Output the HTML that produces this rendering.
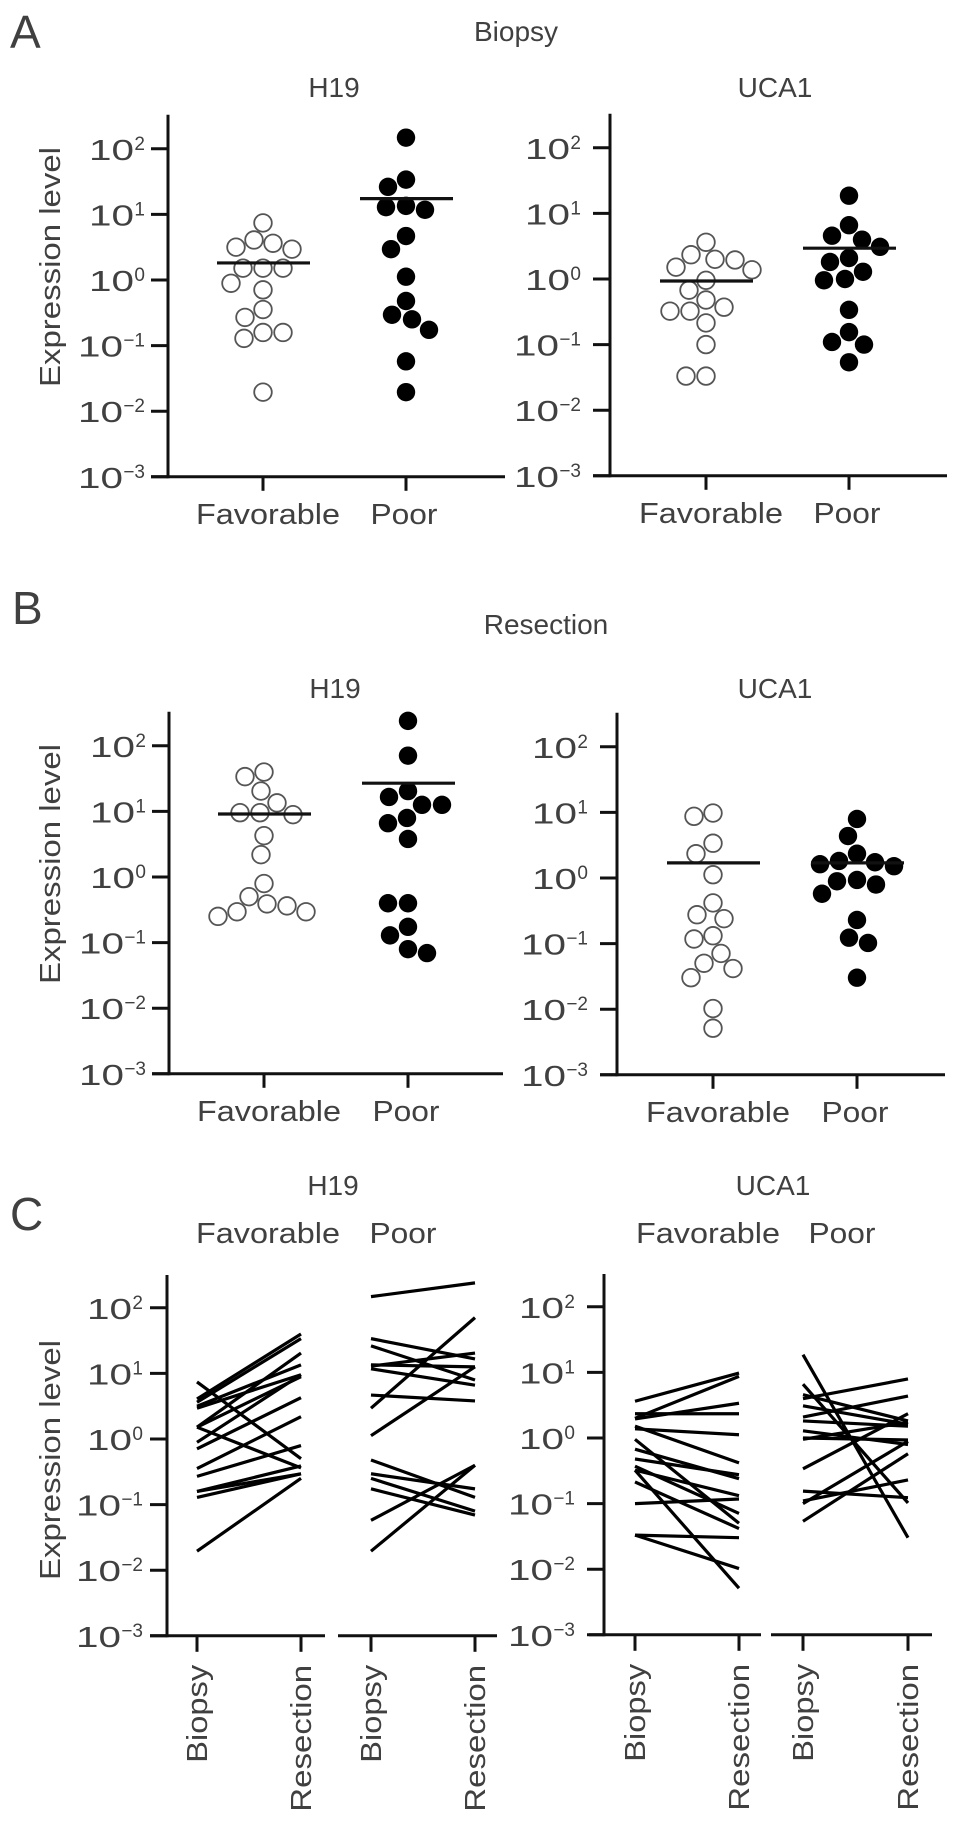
<!DOCTYPE html>
<html>
<head>
<meta charset="utf-8">
<style>
  html,body{margin:0;padding:0;background:#fff;}
  svg{display:block;}
  text{font-family:"Liberation Sans",Arial,sans-serif;fill:#404040;}
</style>
</head>
<body>
<svg id="fig" width="969" height="1825" viewBox="0 0 969 1825" xmlns="http://www.w3.org/2000/svg"></svg>
<script>
// ---- data (log10 expression level) ----
const categories = ["Favorable", "Poor"];
const tickExponents = [2, 1, 0, -1, -2, -3];
// Panel A: Biopsy
const aH19Fav = [0.87,0.61,0.56,0.5,0.47,0.18,0.18,0.18,-0.05,-0.15,-0.45,-0.57,-0.8,-0.8,-0.89,-1.71];
const aH19Poor = [2.17,1.53,1.42,1.13,1.11,1.07,0.67,0.47,0.05,-0.32,-0.53,-0.6,-0.76,-1.24,-1.71];
const aUCA1Fav = [0.56,0.37,0.3,0.29,0.18,0.14,-0.02,-0.17,-0.32,-0.43,-0.49,-0.49,-0.67,-1.0,-1.48,-1.48];
const aUCA1Poor = [1.27,0.82,0.66,0.6,0.49,0.32,0.26,0.11,-0.02,0,-0.47,-0.81,-0.96,-1.0,-1.27];
const aH19Means = [0.26, 1.24];
const aUCA1Means = [-0.03, 0.47];
// Panel B: Resection
const bH19Fav = [1.53,1.6,1.31,1.13,0.98,0.95,0.98,0.63,0.34,-0.1,-0.3,-0.41,-0.44,-0.53,-0.6,-0.53];
const bH19Poor = [2.38,1.85,1.31,1.22,1.1,1.1,0.9,0.82,0.58,-0.4,-0.4,-0.76,-0.89,-1.16,-1.1];
const bUCA1Fav = [0.99,0.94,0.53,0.37,0.05,-0.38,-0.56,-0.62,-0.93,-0.88,-1.15,-1.3,-1.38,-1.52,-1.99,-2.29];
const bUCA1Poor = [0.9,0.64,0.37,0.18,0.24,0.21,0.26,-0.05,-0.24,-0.1,-0.03,-0.64,-0.91,-0.99,-1.52];
const bH19Means = [0.96, 1.43];
const bUCA1Means = [0.23, 0.23];
// Panel C: paired biopsy -> resection
const cH19FavBiopsy = [0.87,0.61,0.56,0.5,0.47,0.18,0.18,0.18,-0.05,-0.15,-0.45,-0.57,-0.8,-0.8,-0.89,-1.71];
const cH19FavResection = [-0.3,1.6,1.53,1.13,0.98,1.31,0.95,-0.44,0.98,0.63,0.34,-0.1,-0.53,-0.41,-0.53,-0.6];
const cH19PoorBiopsy = [2.17,1.53,1.42,1.13,1.11,1.07,0.67,0.47,0.05,-0.32,-0.53,-0.6,-0.76,-1.24,-1.71];
const cH19PoorResection = [2.38,1.22,0.9,1.1,1.31,0.82,0.58,1.85,1.1,-0.89,-0.76,-1.1,-1.16,-0.4,-0.4];
const cUCA1FavBiopsy = [0.56,0.37,0.3,0.29,0.18,0.14,-0.02,-0.17,-0.32,-0.43,-0.49,-0.49,-0.67,-1.0,-1.48,-1.48];
const cUCA1FavResection = [0.99,0.37,0.94,0.53,-0.38,0.05,-1.3,-0.62,-0.56,-1.15,-0.88,-2.29,-1.38,-0.93,-1.52,-1.99];
const cUCA1PoorBiopsy = [1.27,0.82,0.66,0.6,0.49,0.32,0.26,0.11,-0.02,0,-0.47,-0.81,-0.96,-1.0,-1.27];
const cUCA1PoorResection = [-1.52,-0.99,0.26,0.9,0.21,0.64,0.18,-0.1,0.24,-0.03,0.37,-0.91,-0.64,-0.05,-0.24];

const NS = "http://www.w3.org/2000/svg";
const svg = document.getElementById("fig");
const DEC = 65.6;

function mk(tag, attrs, parent) {
  const e = document.createElementNS(NS, tag);
  for (const k in attrs) e.setAttribute(k, attrs[k]);
  (parent || svg).appendChild(e);
  return e;
}
function txt(str, x, y, size, opts, parent) {
  const a = Object.assign({x: x, y: y, "font-size": size}, opts || {});
  const t = mk("text", a, parent);
  t.textContent = str;
  return t;
}
function yScale(y0) { return v => y0 - v * DEC; }

function yAxis(g, ax, y0, topY, labelRight) {
  const ys = yScale(y0);
  const line = mk("line", {x1: ax, y1: topY, x2: ax, y2: ys(-3) + 1.5, stroke: "#111", "stroke-width": 3}, g);
  
  
  tickExponents.forEach(e => {
    const y = ys(e);
    const tk = mk("line", {x1: ax - 17, y1: y, x2: ax, y2: y, stroke: "#111", "stroke-width": 3}, g);
    
    
    const supW = e < 0 ? 22 : 11;
    const base = txt("10", labelRight - supW, y + 11, 29, {"text-anchor": "end", textLength: 45, lengthAdjust: "spacingAndGlyphs"}, g);
    
    
    const sup = txt(e < 0 ? "\u2212" + (-e) : String(e), labelRight, y + 1, 19, {"text-anchor": "end"}, g);
    
    
  });
}

function swarm(vals, cx, ys, r) {
  const order = vals.map((v, i) => i).sort((a, b) => vals[b] - vals[a]);
  const placed = [];
  const out = new Array(vals.length);
  order.forEach(i => {
    const y = ys(vals[i]);
    let best = 0;
    for (let k = 0; k < 200; k++) {
      const off = (k % 2 === 0 ? 1 : -1) * Math.ceil(k / 2);
      const x = cx + off;
      if (placed.every(p => (p.x - x) ** 2 + (p.y - y) ** 2 >= (2 * r) ** 2)) { best = off; break; }
    }
    const p = {x: cx + best, y: y};
    placed.push(p);
    out[i] = p;
  });
  return out;
}

function scatterPanel(name, cfg) {
  const g = mk("g", {}, svg);
  
  
  const ys = yScale(cfg.y0);
  yAxis(g, cfg.ax, cfg.y0, cfg.y0 - 2.52 * DEC, cfg.labelRight);
  const xa = mk("line", {x1: cfg.ax - 17, y1: ys(-3), x2: cfg.xEnd, y2: ys(-3), stroke: "#111", "stroke-width": 3}, g);
  
  
  const t = txt(cfg.title, cfg.titleX, cfg.titleY, 28, {"text-anchor": "middle"}, g);
  
  
  const series = [cfg.fav, cfg.poor];
  categories.forEach((c, ci) => {
    const cx = cfg.cats[ci];
    const tk = mk("line", {x1: cx, y1: ys(-3), x2: cx, y2: ys(-3) + 14, stroke: "#111", "stroke-width": 3}, g);
    
    
    const lbl = txt(c, cx + (ci === 0 ? 5 : -2), ys(-3) + 47, 29, {"text-anchor": "middle", textLength: ci === 0 ? 144 : 67, lengthAdjust: "spacingAndGlyphs"}, g);
    
    
    const pts = swarm(series[ci], cx, ys, 9.6);
    pts.forEach(p => {
      const c2 = mk("circle", ci === 0
        ? {cx: p.x, cy: p.y, r: 8.8, fill: "#fff", stroke: "#555", "stroke-width": 1.8}
        : {cx: p.x, cy: p.y, r: 9.2, fill: "#000"}, g);
      
      
    });
    const my = ys(cfg.means[ci]);
    const ml = mk("line", {x1: cx - 46, y1: my, x2: cx + 47, y2: my, stroke: "#111", "stroke-width": 3.2}, g);
    
    
  });
}

function pairedPanel(name, cfg) {
  const g = mk("g", {}, svg);
  
  
  const ys = yScale(cfg.y0);
  yAxis(g, cfg.ax, cfg.y0, cfg.y0 - 2.5 * DEC, cfg.labelRight);
  cfg.segs.forEach(s => {
    const xa = mk("line", {x1: s[0], y1: ys(-3), x2: s[1], y2: ys(-3), stroke: "#111", "stroke-width": 3}, g);
    
    
  });
  const t = txt(cfg.title, cfg.titleX, 1195, 28, {"text-anchor": "middle"}, g);
  
  
  categories.forEach((c, ci) => {
    const l = txt(c, cfg.groupLabelX[ci], 1243, 29, {"text-anchor": "middle", textLength: ci === 0 ? 144 : 67, lengthAdjust: "spacingAndGlyphs"}, g);
    
    
  });
  cfg.ticks.forEach((x, i) => {
    const tk = mk("line", {x1: x, y1: ys(-3), x2: x, y2: ys(-3) + 16, stroke: "#111", "stroke-width": 3}, g);
    
    
    const isB = i % 2 === 0;
    const lbl = txt(isB ? "Biopsy" : "Resection", 0, 0, 29,
      {"text-anchor": "end", transform: "translate(" + (x + 10) + "," + (ys(-3) + 29) + ") rotate(-90)",
       textLength: isB ? 98 : 147, lengthAdjust: "spacingAndGlyphs"}, g);
    
    
  });
  const groups = [[cfg.favB, cfg.favR, 0], [cfg.poorB, cfg.poorR, 2]];
  groups.forEach(gr => {
    const x1 = cfg.ticks[gr[2]], x2 = cfg.ticks[gr[2] + 1];
    gr[0].forEach((v, i) => {
      const ln = mk("line", {x1: x1, y1: ys(v), x2: x2, y2: ys(gr[1][i]), stroke: "#000", "stroke-width": 3.2, "stroke-linecap": "butt"}, g);
      
      
    });
  });
}

function ylabel(cy) {
  const t = txt("Expression level", 0, 0, 29, {"text-anchor": "middle", transform: "translate(60," + cy + ") rotate(-90)", textLength: 240, lengthAdjust: "spacingAndGlyphs"});
  
  
}
function panelLetter(s, x, y) {
  const t = txt(s, x, y, 46, {fill: "#222"});
  
  
}
function sectionTitle(s, x, y) {
  const t = txt(s, x, y, 28, {"text-anchor": "middle"});
  
  
}

// Panel A
panelLetter("A", 10, 48);
sectionTitle("Biopsy", 516, 41);
scatterPanel("biopsy-h19-chart", {ax: 168, y0: 280, xEnd: 505, cats: [263, 406], fav: aH19Fav, poor: aH19Poor, means: aH19Means, title: "H19", titleX: 334, titleY: 97, labelRight: 145});
scatterPanel("biopsy-uca1-chart", {ax: 610, y0: 279, xEnd: 947, cats: [706, 849], fav: aUCA1Fav, poor: aUCA1Poor, means: aUCA1Means, title: "UCA1", titleX: 775, titleY: 97, labelRight: 581});
ylabel(267);

// Panel B
panelLetter("B", 12, 624);
sectionTitle("Resection", 546, 634);
scatterPanel("resection-h19-chart", {ax: 169, y0: 877, xEnd: 503, cats: [264, 408], fav: bH19Fav, poor: bH19Poor, means: bH19Means, title: "H19", titleX: 335, titleY: 698, labelRight: 146});
scatterPanel("resection-uca1-chart", {ax: 617, y0: 878, xEnd: 945, cats: [713, 857], fav: bUCA1Fav, poor: bUCA1Poor, means: bUCA1Means, title: "UCA1", titleX: 775, titleY: 698, labelRight: 588});
ylabel(864);

// Panel C
panelLetter("C", 10, 1230);
pairedPanel("paired-h19-chart", {ax: 167, y0: 1439, labelRight: 143, segs: [[150, 325], [338, 497]], ticks: [197, 301, 371, 475],
  favB: cH19FavBiopsy, favR: cH19FavResection, poorB: cH19PoorBiopsy, poorR: cH19PoorResection,
  title: "H19", titleX: 333, groupLabelX: [268, 403]});
pairedPanel("paired-uca1-chart", {ax: 604, y0: 1438, labelRight: 575, segs: [[589, 761], [771, 932]], ticks: [635, 739, 803, 908],
  favB: cUCA1FavBiopsy, favR: cUCA1FavResection, poorB: cUCA1PoorBiopsy, poorR: cUCA1PoorResection,
  title: "UCA1", titleX: 773, groupLabelX: [708, 842]});
ylabel(1460);
</script>
</body>
</html>
